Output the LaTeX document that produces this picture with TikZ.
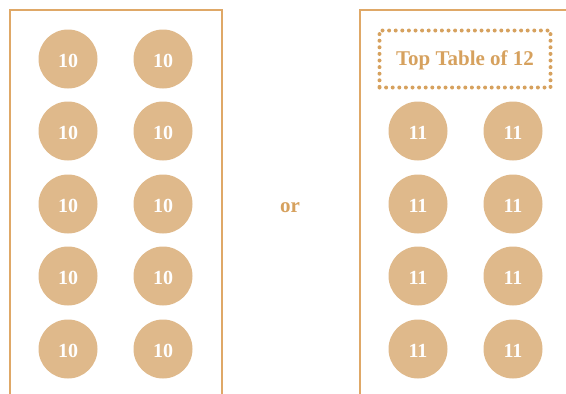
\documentclass[tikz,border=0pt]{standalone}
\usepackage{fontspec}
\setmainfont{Liberation Serif}
\definecolor{edge}{HTML}{DFA867}
\definecolor{tablefill}{HTML}{DFB98B}
\definecolor{labelc}{HTML}{D6A15E}
\begin{document}
\begin{tikzpicture}[x=1pt,y=-1pt,
  roundtable/.style={circle,fill=tablefill,minimum size=59pt,inner sep=0pt,text=white,font=\fontsize{20}{22}\selectfont\bfseries,text height=16.5pt,text depth=0pt},
  wall/.style={draw=edge,line width=2pt},
  toptable/.style={draw=labelc,line width=4pt,dash pattern=on 0pt off 6.6pt,line cap=round,minimum width=171pt,minimum height=57pt,inner sep=0pt,text=labelc,font=\fontsize{21}{23}\selectfont\bfseries,text height=17pt,text depth=4.5pt}]
\useasboundingbox (0,0) rectangle (566,394);
\draw[wall] (10,400) -- (10,10) -- (222,10) -- (222,400);
\draw[wall] (360,400) -- (360,10) -- (580,10);
\foreach \y [count=\i] in {59,131,204,276,349}{
  \node[roundtable] (l\i) at (68,\y) {10};
  \node[roundtable] (r\i) at (163,\y) {10};
}
\node[toptable] (top) at (465,59) {Top Table of 12};
\foreach \y [count=\i] in {131,204,276,349}{
  \node[roundtable] (a\i) at (418,\y) {11};
  \node[roundtable] (b\i) at (513,\y) {11};
}
\node[text=labelc,font=\fontsize{21}{23}\selectfont\bfseries] (or) at (290,208) {or};
\end{tikzpicture}
\end{document}
